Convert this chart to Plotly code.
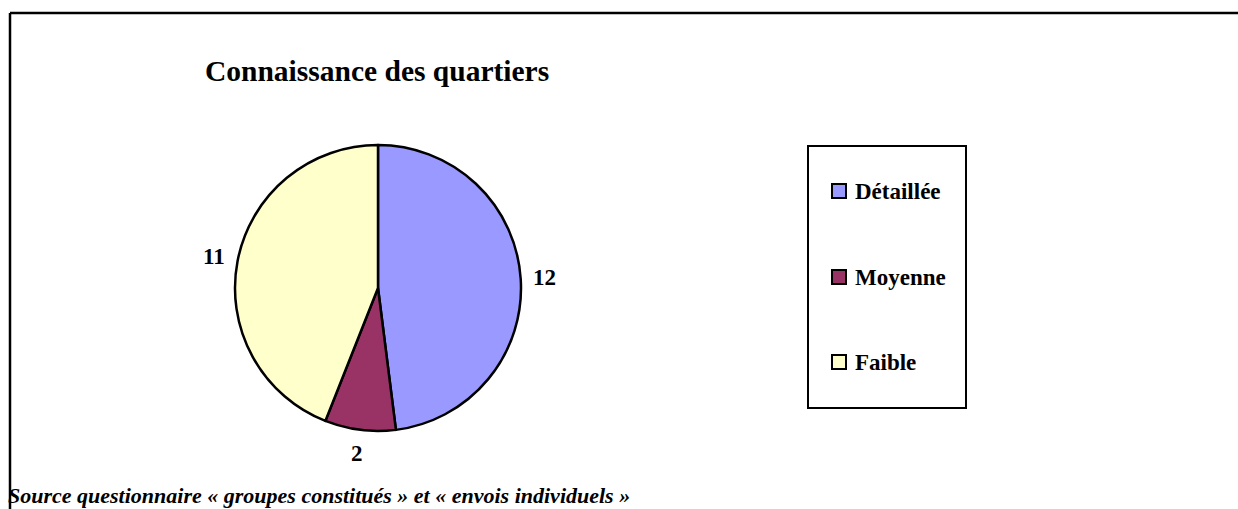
import math
import plotly.graph_objects as go

categories = ["Détaillée", "Moyenne", "Faible"]
values = [12, 2, 11]
colors = ["#9999FF", "#993366", "#FFFFCC"]
title_text = "Connaissance des quartiers"
source_text = "Source questionnaire « groupes constitués » et « envois individuels »"

W, H = 1238, 509
FONT = "Liberation Serif, Times New Roman, serif"


def px(x):
    return x / W


def py(y):
    return 1 - y / H


# pie geometry (pixels)
cx, cy, R = 378, 288, 143

fig = go.Figure()
fig.add_trace(go.Pie(
    labels=categories,
    values=values,
    sort=False,
    direction="clockwise",
    rotation=0,
    marker=dict(colors=colors, line=dict(color="black", width=2.5)),
    textinfo="none",
    hoverinfo="label+value",
    showlegend=False,
    domain=dict(x=[px(cx - R), px(cx + R)], y=[py(cy + R), py(cy - R)]),
))

annotations = []
shapes = []

# value labels outside slices, positioned from the data angles
total = sum(values)
cum = 0
for v in values:
    mid = (cum + v / 2) / total * 2 * math.pi
    cum += v
    lx = cx + 1.17 * R * math.sin(mid)
    ly = cy - 1.17 * R * math.cos(mid)
    annotations.append(dict(
        x=px(lx), y=py(ly), xref="paper", yref="paper",
        text=str(v), showarrow=False, xanchor="center", yanchor="middle",
        font=dict(family=FONT, size=23, color="black", weight="bold"),
    ))

# title
annotations.append(dict(
    x=px(377), y=py(71), xref="paper", yref="paper", text=title_text,
    showarrow=False, xanchor="center", yanchor="middle",
    font=dict(family=FONT, size=29.5, color="black", weight="bold"),
))

# source note
annotations.append(dict(
    x=px(6), y=py(481), xref="paper", yref="paper", text=source_text,
    showarrow=False, xanchor="left", yanchor="top",
    font=dict(family=FONT, size=22, color="black", weight="bold", style="italic"),
))

# outer frame (top and left edges visible)
shapes.append(dict(type="line", xref="paper", yref="paper",
                   x0=px(10), y0=py(13), x1=px(W + 5), y1=py(13),
                   line=dict(color="black", width=2.5)))
shapes.append(dict(type="line", xref="paper", yref="paper",
                   x0=px(10), y0=py(13), x1=px(10), y1=py(H + 5),
                   line=dict(color="black", width=2.5)))

# legend box
shapes.append(dict(type="rect", xref="paper", yref="paper",
                   x0=px(808), y0=py(146), x1=px(966), y1=py(408),
                   line=dict(color="black", width=2), fillcolor="white"))
legend_y = [191, 277, 362]
for name, col, ly in zip(categories, colors, legend_y):
    shapes.append(dict(type="rect", xref="paper", yref="paper",
                       x0=px(832), y0=py(ly - 7), x1=px(846), y1=py(ly + 7),
                       line=dict(color="black", width=2), fillcolor=col))
    annotations.append(dict(
        x=px(853), y=py(ly), xref="paper", yref="paper", text=name,
        showarrow=False, xanchor="left", yanchor="middle",
        font=dict(family=FONT, size=23, color="black", weight="bold"),
    ))

fig.update_layout(
    width=W, height=H,
    margin=dict(l=0, r=0, t=0, b=0),
    paper_bgcolor="white", plot_bgcolor="white",
    annotations=annotations, shapes=shapes,
    showlegend=False,
)

fig.write_html(
    "out.html",
    config={"displayModeBar": False},
    post_script="document.body.style.margin='0';document.body.style.overflow='hidden';",
)
